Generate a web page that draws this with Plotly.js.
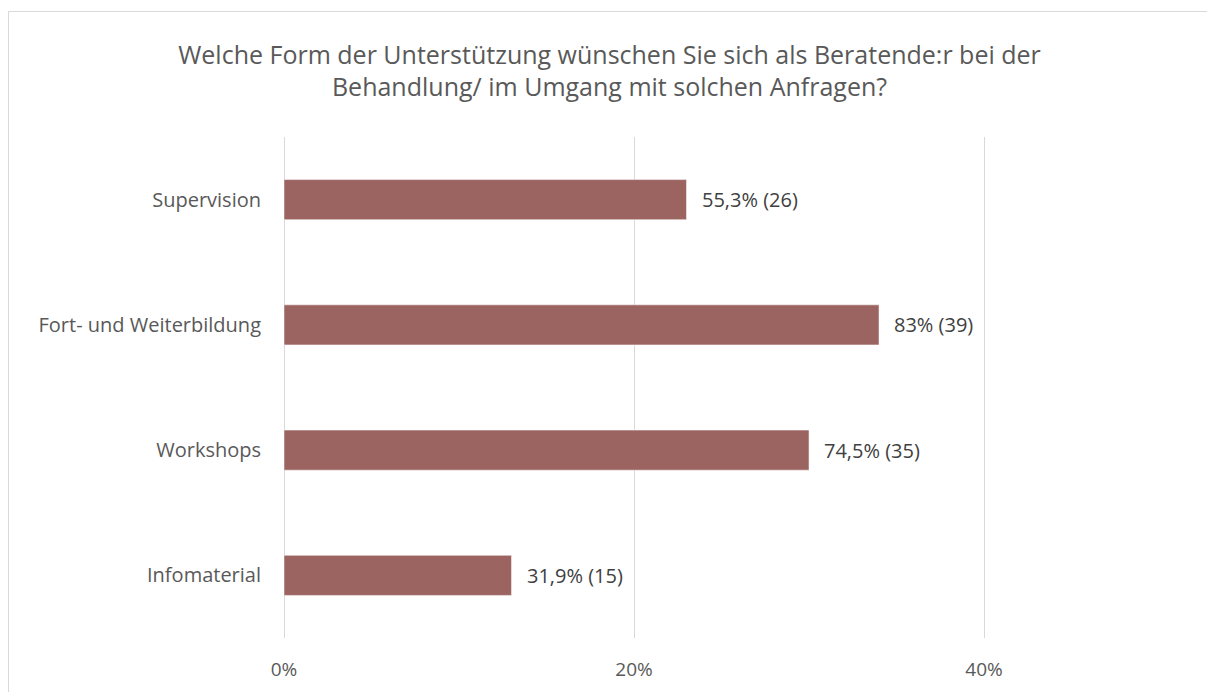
<!DOCTYPE html>
<html>
<head>
<meta charset="utf-8">
<script src="https://cdn.plot.ly/plotly-3.0.1.min.js"></script>
<style>
  html, body { margin: 0; background: #fff; overflow: hidden; }
  #chartDiv { width: 1207px; height: 692px; }
  #frame {
    position: absolute; left: 8px; top: 11px; width: 1400px; height: 800px;
    border-left: 1px solid #d9d9d9; border-top: 1px solid #d9d9d9;
    pointer-events: none;
  }
</style>
</head>
<body>
<div id="chartDiv"></div>
<div id="frame"></div>
<script>
const categories = ['Supervision', 'Fort- und Weiterbildung', 'Workshops', 'Infomaterial'];
const barValues = [23, 34, 30, 13];
const barLabels = ['55,3% (26)', '83% (39)', '74,5% (35)', '31,9% (15)'];
const tickValues = [0, 20, 40];

const trace = {
  type: 'bar',
  orientation: 'h',
  y: categories,
  x: barValues,
  marker: { color: '#9b6461', line: { color: '#ffffff', width: 0.5 } },
  hoverinfo: 'none'
};

const labels = categories.map(function (c, i) {
  return {
    x: barValues[i], y: c, xref: 'x', yref: 'y',
    text: barLabels[i], showarrow: false,
    xanchor: 'left', xshift: 13,
    font: { family: 'Open Sans', size: 20, color: '#404040' }
  };
});

const layout = {
  width: 1207,
  height: 692,
  margin: { l: 284, r: 17, t: 137, b: 54 },
  paper_bgcolor: '#ffffff',
  plot_bgcolor: '#ffffff',
  showlegend: false,
  bargap: 0.68,
  title: {
    text: 'Welche Form der Unterstützung wünschen Sie sich als Beratende:r bei der<br>Behandlung/ im Umgang mit solchen Anfragen?',
    font: { family: 'Open Sans', size: 25, color: '#595959' },
    xref: 'container', x: 0.505, xanchor: 'center',
    yref: 'container', y: 0.908, yanchor: 'top'
  },
  xaxis: {
    range: [0, 51.77],
    tickvals: tickValues,
    ticktext: tickValues.map(function (v) { return v + '%'; }),
    showgrid: true,
    gridcolor: '#d9d9d9',
    gridwidth: 1,
    zeroline: true,
    zerolinecolor: '#d9d9d9',
    zerolinewidth: 1,
    showline: false,
    ticks: '',
    ticklabelstandoff: 18,
    tickfont: { family: 'Open Sans', size: 19, color: '#595959' },
    fixedrange: true
  },
  yaxis: {
    autorange: 'reversed',
    showgrid: false,
    zeroline: false,
    showline: false,
    ticks: '',
    ticklabelstandoff: 22,
    tickfont: { family: 'Open Sans', size: 20, color: '#595959' },
    fixedrange: true
  },
  annotations: labels
};

Plotly.newPlot('chartDiv', [trace], layout, { displayModeBar: false, staticPlot: true });
</script>
</body>
</html>
